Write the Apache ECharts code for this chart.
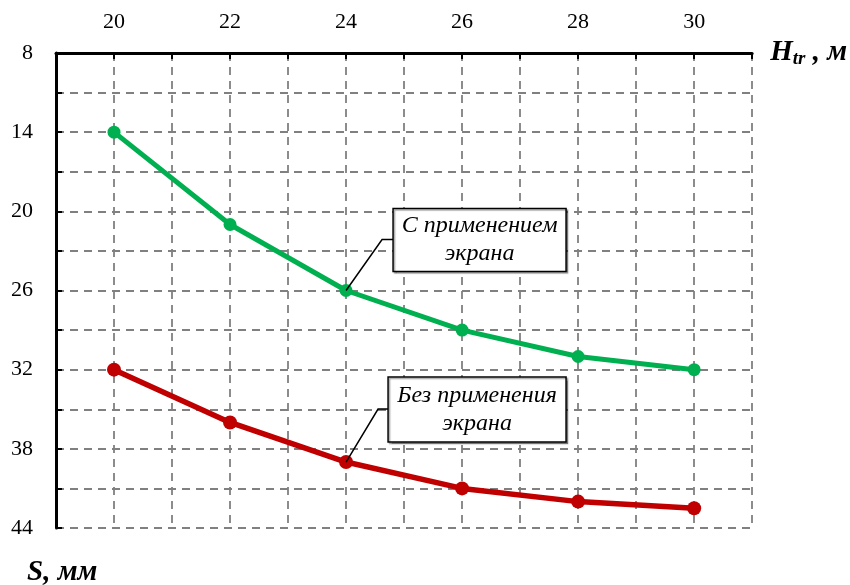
<!DOCTYPE html>
<html>
<head>
<meta charset="utf-8">
<title>Осадка S в зависимости от H_tr</title>
<script src="https://cdn.jsdelivr.net/npm/echarts/dist/echarts.min.js"></script>
<style>
  html, body { margin: 0; padding: 0; background: #fff; }
  #chart { width: 850px; height: 585px; }
</style>
</head>
<body>
<div id="chart"></div>
<script>
// Height H_tr, m (x positions of the measurements)
const heights = [20, 22, 24, 26, 28, 30];
// Settlement S, mm, with the screen
const withScreen = [14, 21, 26, 29, 31, 32];
// Settlement S, mm, without the screen
const withoutScreen = [32, 36, 39, 41, 42, 42.5];

const labelWith = 'С применением\nэкрана';
const labelWithout = 'Без применения\nэкрана';

const FONT = '"Liberation Serif", "Times New Roman", serif';
const gridLine = { show: true, lineStyle: { color: '#808080', width: 1.8, type: [8, 6] } };

const chart = echarts.init(document.getElementById('chart'));

chart.setOption({
  animation: false,
  backgroundColor: '#fff',
  grid: { left: 56, top: 53, right: 97, bottom: 57, containLabel: false },
  title: {
    text: 'S, мм',
    left: 22, top: 553,
    textStyle: { fontFamily: FONT, fontSize: 29, fontWeight: 'bold', fontStyle: 'italic', color: '#000' }
  },
  xAxis: {
    type: 'value',
    position: 'top',
    min: 19, max: 31, interval: 1,
    name: '{b|H}{s|tr}{b| , м}',
    nameLocation: 'end',
    nameGap: 18,
    nameTextStyle: {
      rich: {
        b: { fontFamily: FONT, fontSize: 29, fontWeight: 'bold', fontStyle: 'italic', color: '#000' },
        s: { fontFamily: FONT, fontSize: 19, fontWeight: 'bold', fontStyle: 'italic', color: '#000', verticalAlign: 'bottom', padding: [13, 0, 0, 0] }
      }
    },
    axisLine: { show: true, lineStyle: { color: '#000', width: 3 } },
    axisTick: { show: true, inside: true, length: 6, lineStyle: { color: '#000', width: 2 } },
    axisLabel: {
      fontFamily: FONT, fontSize: 22, color: '#000', margin: 20,
      formatter: v => (v % 2 === 0 && v >= 20 && v <= 30) ? String(v) : ''
    },
    splitLine: gridLine
  },
  yAxis: {
    type: 'value',
    inverse: true,
    min: 8, max: 44, interval: 3,
    axisLine: { show: true, lineStyle: { color: '#000', width: 3 } },
    axisTick: { show: true, inside: true, length: 6, lineStyle: { color: '#000', width: 2 } },
    axisLabel: {
      fontFamily: FONT, fontSize: 22, color: '#000', margin: 23,
      formatter: v => ((v - 8) % 6 === 0) ? String(v) : ''
    },
    splitLine: gridLine
  },
  series: [
    {
      name: 'С применением экрана',
      type: 'line',
      data: heights.map((h, i) => [h, withScreen[i]]),
      symbol: 'circle', symbolSize: 13,
      lineStyle: { color: '#00B050', width: 5 },
      itemStyle: { color: '#00B050' },
      z: 3
    },
    {
      name: 'Без применения экрана',
      type: 'line',
      data: heights.map((h, i) => [h, withoutScreen[i]]),
      symbol: 'circle', symbolSize: 14,
      lineStyle: { color: '#C00000', width: 5.5 },
      itemStyle: { color: '#C00000' },
      z: 3
    }
  ]
});

// Callout boxes with leader lines, anchored to the point at H = 24 m
function callout(seriesIndex, values, text, dxKnee, dyKnee, dxBox, dyBox, w, h) {
  const i = heights.indexOf(24);
  const p = chart.convertToPixel({ seriesIndex: seriesIndex }, [heights[i], values[i]]);
  const bx = p[0] + dxBox, by = p[1] + dyBox;
  const ky = p[1] + dyKnee;
  return [
    {
      type: 'polyline', z: 10,
      shape: { points: [[p[0], p[1]], [p[0] + dxKnee, ky], [bx, ky]] },
      style: { stroke: '#000', lineWidth: 1.5, fill: null }
    },
    {
      type: 'rect', z: 10,
      shape: { x: bx, y: by, width: w, height: h },
      style: { fill: '#fff', stroke: '#000', lineWidth: 1.5, shadowColor: 'rgba(0,0,0,0.35)', shadowOffsetX: 1.5, shadowOffsetY: 1.5, shadowBlur: 1 }
    },
    {
      type: 'text', z: 11,
      x: bx + w / 2, y: by + h / 2,
      style: {
        text: text, align: 'center', verticalAlign: 'middle',
        font: 'italic 24px ' + FONT, lineHeight: 28, fill: '#000'
      }
    }
  ];
}

chart.setOption({
  graphic: [].concat(
    callout(0, withScreen, labelWith, 36, -51, 47, -82, 173, 63),
    callout(1, withoutScreen, labelWithout, 32, -53, 42, -85, 178, 65)
  )
});
</script>
</body>
</html>
